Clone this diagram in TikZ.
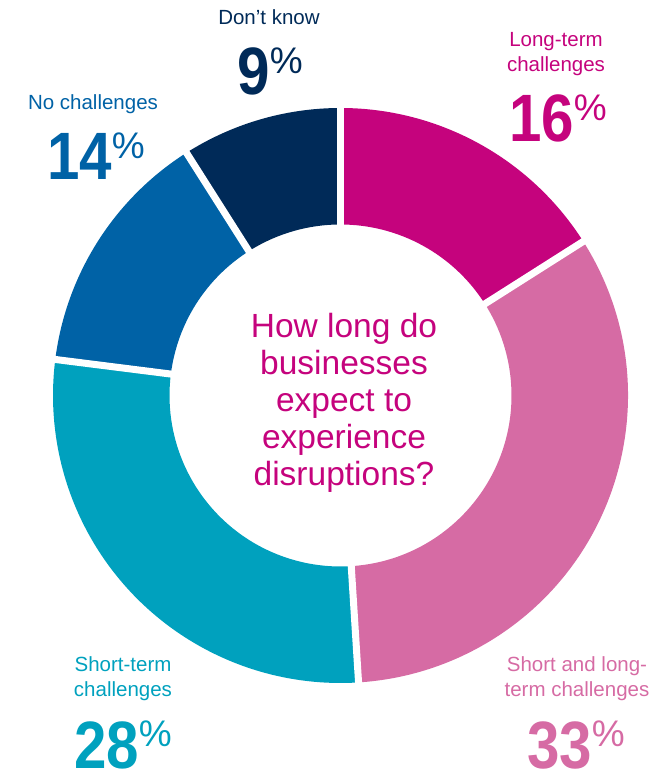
\documentclass[tikz,border=0pt]{standalone}
\usepackage{fontspec}
\usetikzlibrary{calc}
\setmainfont{Liberation Sans}
\newfontfamily\numfont[FakeStretch=0.87]{Liberation Sans}

\definecolor{longterm}{HTML}{C5037D}
\definecolor{bothterm}{HTML}{D66BA4}
\definecolor{shortterm}{HTML}{00A1BE}
\definecolor{nochall}{HTML}{0062A6}
\definecolor{dontknow}{HTML}{002A58}

% big bold number with a small raised percent sign
\newcommand{\bigpct}[1]{{\numfont\fontsize{67}{67}\bfseries #1}\raisebox{21.5pt}{\fontsize{37}{37}\selectfont\%}}

\tikzset{
  lbl/.style={font=\fontsize{20.5}{25}\selectfont, align=center, inner sep=0pt, anchor=base},
  pctlbl/.style={inner sep=0pt, anchor=base},
}

\begin{document}
\begin{tikzpicture}[x=1pt,y=1pt]

\useasboundingbox (0,0) rectangle (671,773);

\coordinate (c) at (340.5,377.5);

% ring segments
\foreach \a/\b/\col in {90/32.4/longterm, 32.4/-86.4/bothterm, -86.4/-187.2/shortterm, -187.2/-237.6/nochall, -237.6/-270/dontknow}
  \fill[\col] ($(c)+(\a:287.5)$) arc (\a:\b:287.5) -- ($(c)+(\b:171)$) arc (\b:\a:171) -- cycle;

% white gaps
\foreach \a in {90,32.4,-86.4,-187.2,-237.6}
  \draw[white, line width=7pt] ($(c)+(\a:165)$) -- ($(c)+(\a:295)$);

\node[font=\fontsize{33.5}{37.1}\selectfont, align=center, text=longterm, inner sep=0pt] (question) at (344,370)
  {How long do\\businesses\\expect to\\experience\\disruptions?};

\node[lbl, text=dontknow] (dklbl) at (269,748) {Don’t know};
\node[pctlbl, text=dontknow] (dkpct) at (270,678) {\bigpct{9}};

\node[lbl, text=longterm] (ltlbl) at (556,701.3) {Long-term\\challenges};
\node[pctlbl, text=longterm] (ltpct) at (558,631) {\bigpct{16}};

\node[lbl, text=nochall] (nclbl) at (93,663) {No challenges};
\node[pctlbl, text=nochall] (ncpct) at (96,593) {\bigpct{14}};

\node[lbl, text=shortterm] (stlbl) at (123,76.3) {Short-term\\challenges};
\node[pctlbl, text=shortterm] (stpct) at (123,5) {\bigpct{28}};

\node[lbl, text=bothterm] (bothlbl) at (577,76.3) {Short and long-\\term challenges};
\node[pctlbl, text=bothterm] (bothpct) at (576,5) {\bigpct{33}};

\end{tikzpicture}
\end{document}
